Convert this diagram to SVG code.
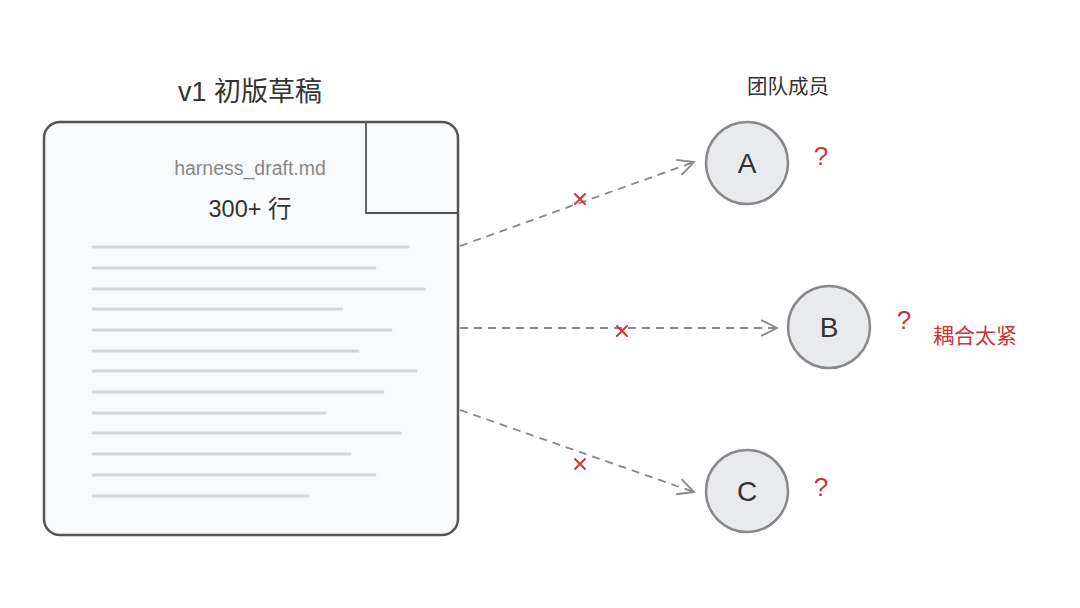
<svg xmlns="http://www.w3.org/2000/svg" width="1080" height="608" viewBox="0 0 1080 608">
<style>
.t{font-family:"Liberation Sans","Noto Sans CJK SC",sans-serif}
.ln{stroke:#d3d6d9;stroke-width:3;stroke-linecap:round}
.conn{stroke:#888;stroke-width:1.8;stroke-dasharray:8 6;fill:none}
.x{stroke:#d0363a;stroke-width:2;stroke-linecap:round}
.circ{fill:#e8eaed;stroke:#888;stroke-width:2.5}
.q{fill:#c8363a;font-size:26px}
.lt{font-size:28px;fill:#333}
</style>
<defs>
<marker id="ah" markerWidth="20" markerHeight="20" refX="16" refY="10" orient="auto" markerUnits="userSpaceOnUse">
<path d="M0 2 L16 10 L0 18" fill="none" stroke="#888" stroke-width="1.8"/>
</marker>
</defs>
<rect width="1080" height="608" fill="#fff"/>
<g id="doc">
<text class="t" x="250" y="101" text-anchor="middle" font-size="27" fill="#333">v1 初版草稿</text>
<rect x="44" y="122" width="414" height="413" rx="16" fill="#f8f9fa" stroke="#555" stroke-width="2.5"/>
<path d="M366 122 V213 H457" fill="none" stroke="#555" stroke-width="1.8"/>
<text class="t" x="250" y="175" text-anchor="middle" font-size="19.5" fill="#888">harness_draft.md</text>
<text class="t" x="250" y="217" text-anchor="middle" font-size="23.5" fill="#333">300+ 行</text>
<line class="ln" x1="93" y1="247" x2="408" y2="247"/>
<line class="ln" x1="93" y1="268" x2="375" y2="268"/>
<line class="ln" x1="93" y1="289" x2="424" y2="289"/>
<line class="ln" x1="93" y1="309" x2="342" y2="309"/>
<line class="ln" x1="93" y1="330" x2="391" y2="330"/>
<line class="ln" x1="93" y1="351" x2="358" y2="351"/>
<line class="ln" x1="93" y1="371" x2="416" y2="371"/>
<line class="ln" x1="93" y1="392" x2="383" y2="392"/>
<line class="ln" x1="93" y1="413" x2="325" y2="413"/>
<line class="ln" x1="93" y1="433" x2="400" y2="433"/>
<line class="ln" x1="93" y1="454" x2="350" y2="454"/>
<line class="ln" x1="93" y1="475" x2="375" y2="475"/>
<line class="ln" x1="93" y1="496" x2="308" y2="496"/>
</g>
<g id="connectors">
<path class="conn" d="M460 246 L694 162" marker-end="url(#ah)"/>
<path class="conn" d="M460 328 L777 328" marker-end="url(#ah)"/>
<path class="conn" d="M460 410 L694 492" marker-end="url(#ah)"/>
<path class="x" d="M575 194 L585 204 M585 194 L575 204"/>
<path class="x" d="M617 326 L627 336 M627 326 L617 336"/>
<path class="x" d="M575 459 L585 469 M585 459 L575 469"/>
</g>
<g id="team-label">
<text class="t" x="788" y="94" text-anchor="middle" font-size="20.5" fill="#333">团队成员</text>
</g>
<g id="node-a">
<circle class="circ" cx="747" cy="163" r="41"/>
<text class="t lt" x="747" y="173" text-anchor="middle">A</text>
<text class="t q" x="821" y="165" text-anchor="middle">?</text>
</g>
<g id="node-b">
<circle class="circ" cx="829" cy="327" r="41"/>
<text class="t lt" x="829" y="337" text-anchor="middle">B</text>
<text class="t q" x="904" y="329" text-anchor="middle">?</text>
<text class="t" x="975" y="343" text-anchor="middle" font-size="21" fill="#c8363a">耦合太紧</text>
</g>
<g id="node-c">
<circle class="circ" cx="747" cy="491" r="41"/>
<text class="t lt" x="747" y="501" text-anchor="middle">C</text>
<text class="t q" x="821" y="496" text-anchor="middle">?</text>
</g>
</svg>
